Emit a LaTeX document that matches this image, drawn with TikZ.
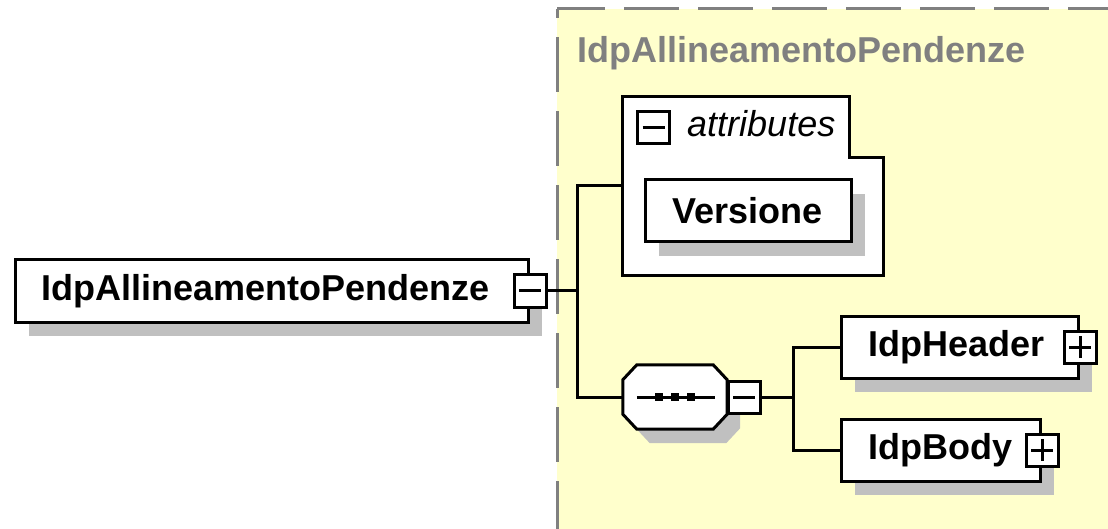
\documentclass[tikz,border=0pt]{standalone}
\usepackage{fontspec}
\setmainfont{Liberation Sans}
\usetikzlibrary{shadows}
\definecolor{xsdyellow}{RGB}{255,255,204}
\definecolor{xsdshadow}{RGB}{192,192,192}
\definecolor{xsdgray}{RGB}{128,128,128}
\newcommand{\xsdfont}{\fontsize{36}{40}\selectfont}

\begin{document}
\begin{tikzpicture}[x=1pt, y=-1pt,
  shade/.style={drop shadow={shadow xshift=13pt, shadow yshift=-14pt, fill=xsdshadow, opacity=1}},
  elem/.style={rectangle, draw, fill=white, line width=3pt, anchor=west, minimum height=62pt,
    inner ysep=0pt, align=left, font=\xsdfont\bfseries, shade},
  seqbox/.style={draw, fill=white, line width=3pt, shade,
    path picture={
      \draw[black, line width=3pt] ([xshift=14pt]path picture bounding box.west) -- ([xshift=-12pt]path picture bounding box.east);
      \foreach \dx in {-16,0,16}
        \fill[black] ([xshift=\dx pt]path picture bounding box.center) +(-4,-4) rectangle +(4,4);
    }},
  pmbox/.style={rectangle, draw, fill=white, line width=3pt, minimum size=32pt, inner sep=0pt},
  minusbox/.style={pmbox, path picture={
      \draw[line width=3pt] ([xshift=5pt]path picture bounding box.west) -- ([xshift=-5pt]path picture bounding box.east);}},
  plusbox/.style={pmbox, path picture={
      \draw[line width=3pt] ([xshift=5pt]path picture bounding box.west) -- ([xshift=-5pt]path picture bounding box.east);
      \draw[line width=3pt] ([yshift=5pt]path picture bounding box.south) -- ([yshift=-5pt]path picture bounding box.north);}},
  conn/.style={line width=3pt},
  border/.style={xsdgray, line width=3pt, dash pattern=on 55pt off 19pt}
]
\useasboundingbox (0,0) rectangle (1108,529);

% type area
\fill[xsdyellow] (557,9) rectangle (1108,529);
\draw[border, dash phase=46pt] (557,9) -- (557,529);
\draw[border, dash phase=7pt] (557,9) -- (1108,9);
\node[anchor=base west, inner sep=0pt, font=\xsdfont\bfseries, text=xsdgray] (title) at (577,63) {IdpAllineamentoPendenze};

% attributes
\node[minimum width=260pt, minimum height=178pt, inner sep=0pt] (attr) at (753,186) {};
\draw[line width=3pt, fill=white] (attr.south west) |- ([xshift=227pt]attr.north west)
  |- ([yshift=-61pt]attr.north east) -- (attr.south east) -- cycle;
\node[minusbox] (attr-pm) at (653.5,128) {};
\node[anchor=base west, inner sep=0pt, font=\xsdfont\itshape] (attr-lbl) at (687,137) {attributes};
\node[elem, inner xsep=27pt, text width=152pt] (vers) at (644,211) {Versione};

% elements
\node[elem, inner xsep=26pt, text width=461pt] (root) at (14,291) {IdpAllineamentoPendenze};
\node[minusbox] (root-pm) at (root.east) {};

% sequence
\node[minimum width=104pt, minimum height=64pt, inner sep=0pt] (seq) at (675,397) {};
\draw[seqbox] ([xshift=14pt]seq.north west) -- ([xshift=-14pt]seq.north east)
  -- ([yshift=-15pt]seq.north east) -- ([yshift=15pt]seq.south east)
  -- ([xshift=-14pt]seq.south east) -- ([xshift=14pt]seq.south west)
  -- ([yshift=15pt]seq.south west) -- ([yshift=-15pt]seq.north west) -- cycle;
\node[minusbox] (seq-pm) at (744,397) {};

\node[elem, inner xsep=27pt, text width=183pt] (hdr) at (840,347) {IdpHeader};
\node[plusbox] (hdr-pm) at (hdr.east) {};
\node[elem, inner xsep=27pt, text width=145pt] (body) at (840,450) {IdpBody};
\node[plusbox] (body-pm) at (body.east) {};

% connectors
\coordinate (j1) at (577,291);
\draw[conn] (root-pm.east) -- (j1);
\draw[conn] (attr.west) -| (j1) |- (seq.west);
\coordinate (j2) at (793,397);
\draw[conn] (seq-pm.east) -- (j2);
\draw[conn] (hdr.west) -| (j2) |- (body.west);

\end{tikzpicture}
\end{document}
